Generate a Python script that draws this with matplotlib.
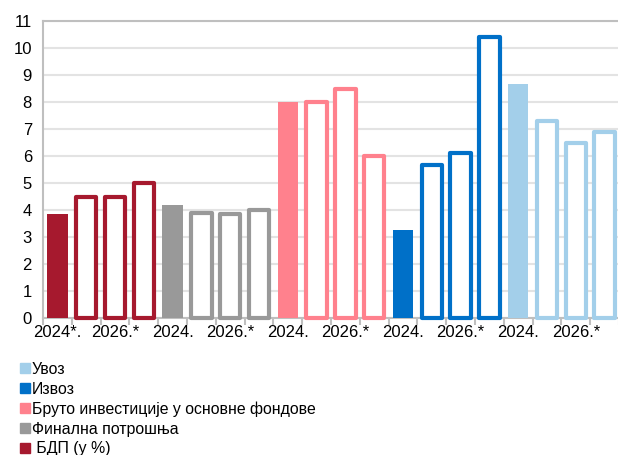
import numpy as np
import matplotlib.pyplot as plt
from matplotlib.patches import Patch

plt.rcParams['font.family'] = ['Liberation Sans', 'DejaVu Sans']

# series (legend order bottom-up: GDP first)
series = ["БДП (у %)", "Финална потрошња", "Бруто инвестиције у основне фондове", "Извоз", "Увоз"]
colors = ["#A6192E", "#999999", "#FF818D", "#0070C8", "#A3CFEA"]
gdp = [3.85, 4.5, 4.5, 5.0]
consumption = [4.2, 3.9, 3.85, 4.0]
investment = [8.0, 8.0, 8.5, 6.0]
exports = [3.25, 5.65, 6.1, 10.4]
imports = [8.65, 7.3, 6.5, 6.9]
values = [gdp, consumption, investment, exports, imports]

first_labels = ["2024*.", "2024.", "2024.", "2024.", "2024."]
third_label = "2026.*"

fig = plt.figure(figsize=(6.18, 4.55), dpi=100)
ax = fig.add_axes([43 / 618, 1 - 318 / 455, 576 / 618, 297 / 455])

width = 0.71
x = 0
label_pos = []
label_txt = []
for i, vals in enumerate(values):
    for j, v in enumerate(vals):
        if j == 0:
            ax.bar(x, v, width=width, color=colors[i], zorder=3)
            label_pos.append(x)
            label_txt.append(first_labels[i])
        else:
            ax.bar(x, v, width=width, facecolor="white", edgecolor=colors[i],
                   linewidth=3, joinstyle="round", zorder=3, clip_on=False)
            if j == 2:
                label_pos.append(x)
                label_txt.append(third_label)
        x += 1

ax.set_xlim(-0.5, 19.5)
ax.set_ylim(0, 11)
ax.set_yticks(range(0, 12))
ax.yaxis.grid(True, color="#E3E3E3", linewidth=1.5, zorder=0)
ax.tick_params(axis="y", length=0, labelsize=12, pad=8)

# tick marks between categories, labels at bar centres
ax.set_xticks(np.arange(-0.5, 20, 1))
ax.set_xticklabels([])
ax.tick_params(axis="x", which="major", length=5, width=1.5, color="#BFBFBF", direction="out")
ax.set_xticks(label_pos, minor=True)
ax.set_xticklabels(label_txt, minor=True)
ax.tick_params(axis="x", which="minor", length=0, labelsize=12, pad=5)

for s in ["left", "bottom", "top"]:
    ax.spines[s].set_color("#BFBFBF")
    ax.spines[s].set_linewidth(1.5)
ax.spines["right"].set_visible(False)

handles = [Patch(color=c, label=l) for c, l in zip(colors, series)]
handles[0].set_label(" БДП (у %)")
fig.legend(handles=handles[::-1], loc="upper left", bbox_to_anchor=(20 / 618, 1 - 362 / 455),
           frameon=False, fontsize=11.4, handlelength=0.6, handleheight=0.6,
           handletextpad=0.15, labelspacing=0.3, borderaxespad=0, borderpad=0)

fig.savefig("out.png", dpi=100)
